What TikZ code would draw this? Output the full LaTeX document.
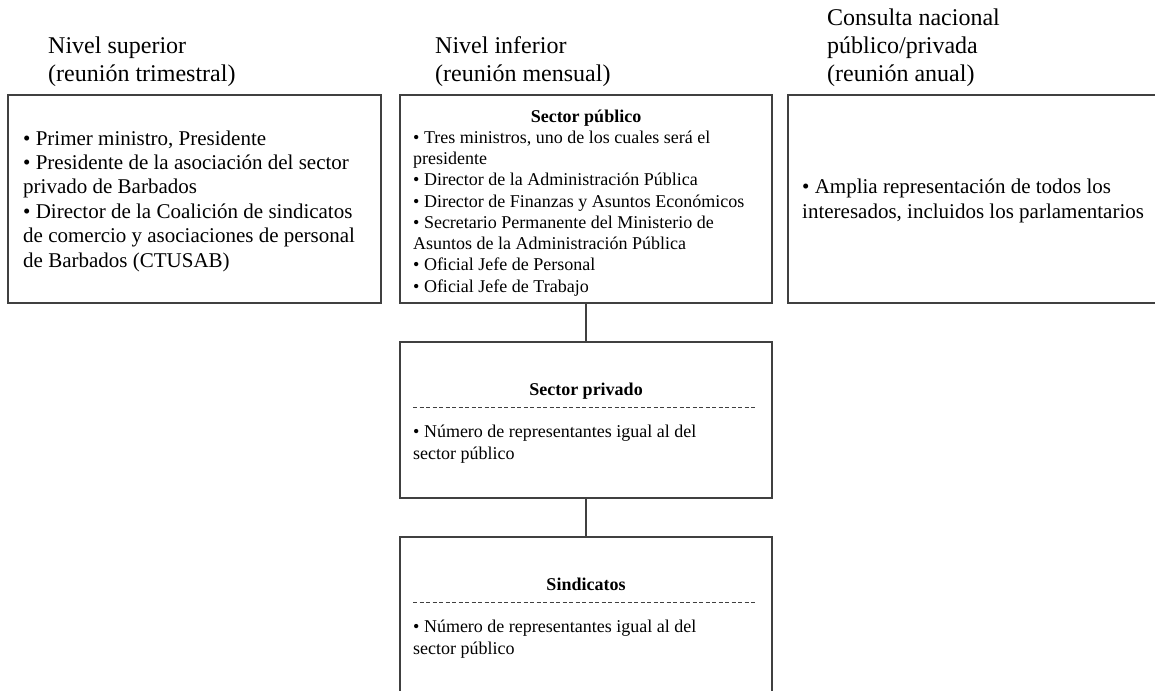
\documentclass[tikz,border=0pt]{standalone}
\usepackage{fontspec}
\setmainfont{Liberation Serif}
\begin{document}
\begin{tikzpicture}[x=1pt,y=-1pt,
  panel/.style={draw=black!75, line width=1.2pt, inner sep=0pt, outer sep=0pt,
    anchor=north west, minimum width=#1},
  panel/.default=372pt,
  % multi-line nodes: the base anchor sits on the last line
  head/.style={anchor=base west, align=left, inner sep=0pt,
    font=\fontsize{24}{28}\selectfont},
  bigtext/.style={anchor=west, align=left, inner sep=0pt,
    font=\fontsize{21}{24.4}\selectfont},
  smalltext/.style={anchor=base west, align=left, inner sep=0pt,
    font=\fontsize{18}{21.25}\selectfont},
  boxtitle/.style={anchor=base, inner sep=0pt,
    font=\bfseries\fontsize{18}{21.25}\selectfont},
  sepline/.style={draw=black!75, line width=0.8pt, dash pattern=on 4pt off 2.5pt},
  link/.style={draw=black!75, line width=1.2pt}]

\useasboundingbox (0,0) rectangle (1155,690);

% column headings
\node[head] (hsup) at (48,82) {Nivel superior\\(reunión trimestral)};
\node[head] (hinf) at (435,82) {Nivel inferior\\(reunión mensual)};
\node[head] (hcon) at (827,82) {Consulta nacional\\público/privada\\(reunión anual)};

% upper level
\node[panel=373pt, minimum height=208pt] (sup) at (8,95) {};
\node[bigtext] (suptxt) at ([xshift=15pt,yshift=-2pt]sup.west)
  {• Primer ministro, Presidente\\
   • Presidente de la asociación del sector\\
   privado de Barbados\\
   • Director de la Coalición de sindicatos\\
   de comercio y asociaciones de personal\\
   de Barbados (CTUSAB)};

% lower level: public sector
\node[panel, minimum height=208pt] (pub) at (400,95) {};
\node[boxtitle] (pubt) at (586,122) {Sector público};
\node[smalltext] (pubtxt) at (413,292)
  {• Tres ministros, uno de los cuales será el\\
   presidente\\
   • Director de la Administración Pública\\
   • Director de Finanzas y Asuntos Económicos\\
   • Secretario Permanente del Ministerio de\\
   Asuntos de la Administración Pública\\
   • Oficial Jefe de Personal\\
   • Oficial Jefe de Trabajo};

% national consultation
\node[panel, minimum height=208pt] (con) at (788,95) {};
\node[bigtext] (contxt) at ([xshift=14pt,yshift=-2pt]con.west)
  {• Amplia representación de todos los\\
   interesados, incluidos los parlamentarios};

% lower level: private sector
\node[panel, minimum height=156pt] (priv) at (400,342) {};
\node[boxtitle] (privt) at ([yshift=-53pt]priv.north) {Sector privado};
\draw[sepline] ([xshift=13pt,yshift=-65pt]priv.north west)
  -- ([xshift=-15pt,yshift=-65pt]priv.north east);
\node[smalltext] (privtxt) at ([xshift=13pt,yshift=-117pt]priv.north west)
  {• Número de representantes igual al del\\sector público};

% lower level: trade unions
\node[panel, minimum height=156pt] (sind) at (400,537) {};
\node[boxtitle] (sindt) at ([yshift=-53pt]sind.north) {Sindicatos};
\draw[sepline] ([xshift=13pt,yshift=-65pt]sind.north west)
  -- ([xshift=-15pt,yshift=-65pt]sind.north east);
\node[smalltext] (sindtxt) at ([xshift=13pt,yshift=-117pt]sind.north west)
  {• Número de representantes igual al del\\sector público};

% connectors
\draw[link] (pub.south) -- (priv.north);
\draw[link] (priv.south) -- (sind.north);
\end{tikzpicture}
\end{document}
